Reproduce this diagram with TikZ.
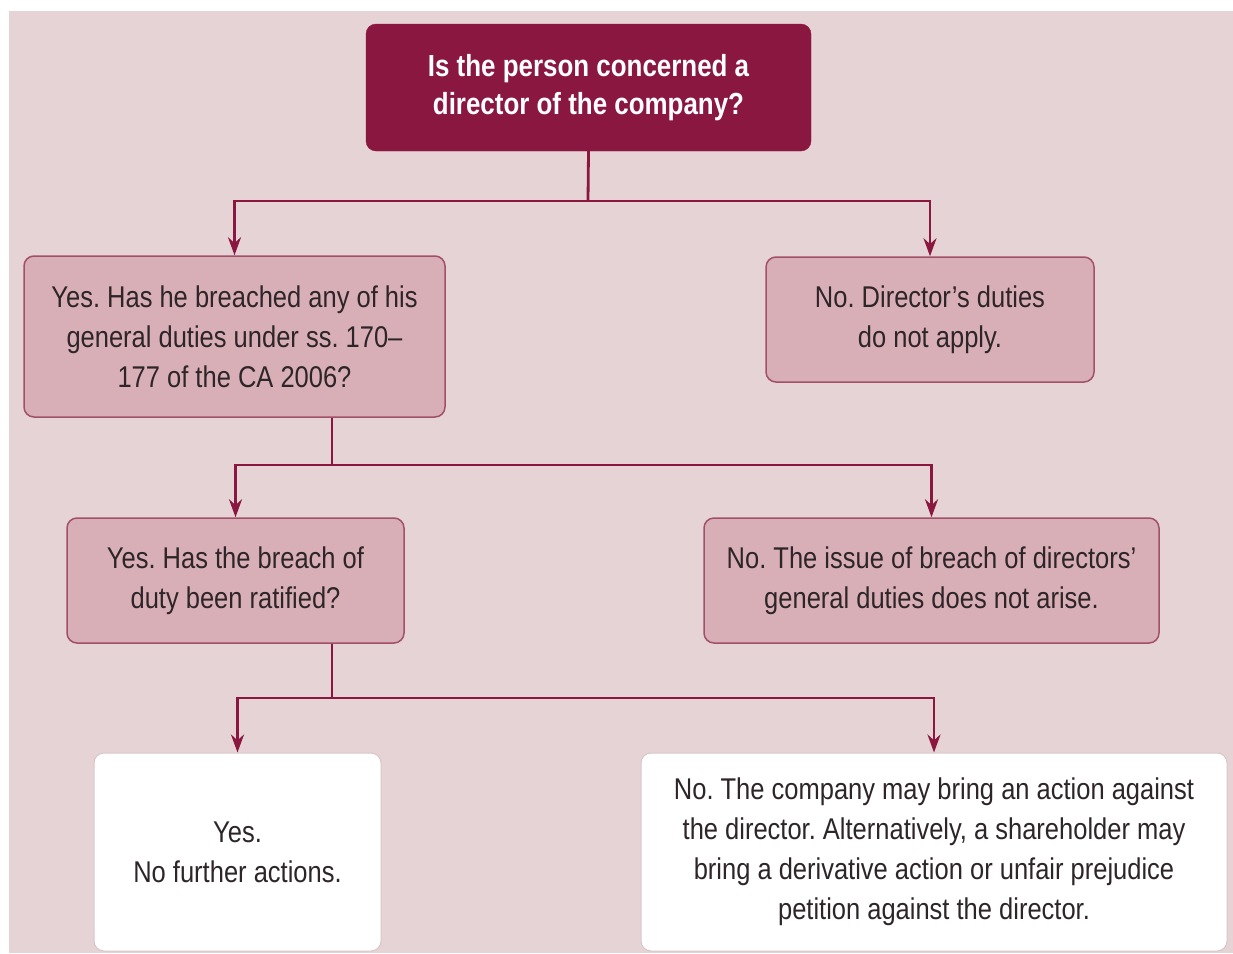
\documentclass[tikz,border=0pt]{standalone}
\usepackage{fontspec}
\setmainfont[FakeStretch=0.85]{Liberation Sans}
\usetikzlibrary{arrows.meta}
\definecolor{bgpink}{HTML}{E6D3D5}
\definecolor{wine}{HTML}{8A1740}
\definecolor{midfill}{HTML}{D8AFB6}
\definecolor{midedge}{HTML}{A2506A}
\definecolor{txt}{HTML}{2E2528}
\definecolor{whiteedge}{HTML}{D8C6C8}
\tikzset{
  box/.style={rectangle, rounded corners=10pt, inner sep=0pt, align=center,
    font=\frenchspacing\fontsize{30}{40}\selectfont, text=txt},
  topbox/.style={box, fill=wine, draw=wine, text=white,
    font=\frenchspacing\bfseries\fontsize{30.5}{38}\selectfont},
  midbox/.style={box, fill=midfill, draw=midedge, line width=1.5pt},
  endbox/.style={box, fill=white, draw=whiteedge, line width=1pt},
  conn/.style={draw=wine, line width=2.8pt},
  arr/.style={conn, -{Stealth[length=18pt,width=13pt]}}
}
\begin{document}
\begin{tikzpicture}[x=1pt,y=-1pt]
\useasboundingbox (0,0) rectangle (1233,953);
\fill[white] (0,0) rectangle (1233,953);
\fill[bgpink] (9,11) rectangle (1233,953);

\node[topbox, minimum width=445pt, minimum height=127pt] (top) at (588.5,87.5)
  {Is the person concerned a\\director of the company?};
\node[midbox, minimum width=421pt, minimum height=161pt] (L1) at (234.5,336.5)
  {Yes. Has he breached any of his\\general duties under ss. 170–\\177 of the CA 2006?};
\node[midbox, minimum width=328pt, minimum height=125pt] (R1) at (930,319.5)
  {No. Director’s duties\\do not apply.};
\node[midbox, minimum width=337pt, minimum height=125pt] (L2) at (235.5,580.5)
  {Yes. Has the breach of\\duty been ratified?};
\node[midbox, minimum width=455pt, minimum height=125pt] (R2) at (931.5,580.5)
  {No. The issue of breach of directors’\\general duties does not arise.};
\node[endbox, minimum width=287pt, minimum height=198pt] (L3) at (237.5,852)
  {Yes.\\No further actions.};
\node[endbox, minimum width=586pt, minimum height=198pt] (R3) at (934,852)
  {No. The company may bring an action against\\the director. Alternatively, a shareholder may\\bring a derivative action or unfair prejudice\\petition against the director.};

\coordinate (j1) at (588,201);
\coordinate (j2) at (332,465);
\coordinate (j3) at (332,698);

\draw[conn] (top.south) -- (j1);
\draw[arr] (j1) -| (L1.north);
\draw[arr] (j1) -| (R1.north);

\draw[conn] (L1.south -| j2) -- (j2);
\draw[arr] (j2) -| (L2.north);
\draw[arr] (j2) -| (R2.north);

\draw[conn] (L2.south -| j3) -- (j3);
\draw[arr] (j3) -| (L3.north);
\draw[arr] (j3) -| (R3.north);
\end{tikzpicture}
\end{document}
